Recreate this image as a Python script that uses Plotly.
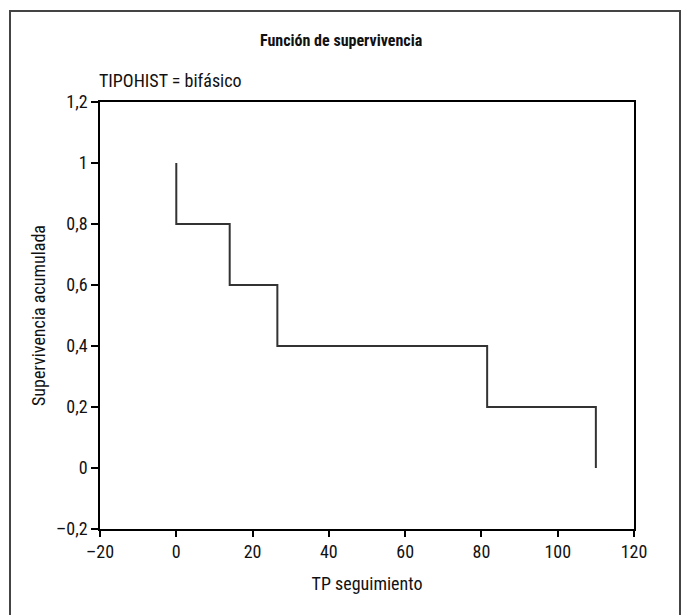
import plotly.graph_objects as go

# Step data (Kaplan-Meier style)
event_times = [0, 14, 26.5, 81.5, 110]
survival = [1.0, 0.8, 0.6, 0.4, 0.2, 0.0]

x_ticks = [-20, 0, 20, 40, 60, 80, 100, 120]
x_tick_labels = ["\u201320", "0", "20", "40", "60", "80", "100", "120"]
y_ticks = [-0.2, 0, 0.2, 0.4, 0.6, 0.8, 1.0, 1.2]
y_tick_labels = ["\u20130,2", "0", "0,2", "0,4", "0,6", "0,8", "1", "1,2"]

# build step path
xs, ys = [event_times[0]], [survival[0]]
for i, t in enumerate(event_times):
    xs.append(t); ys.append(survival[i + 1])
    if i + 1 < len(event_times):
        xs.append(event_times[i + 1]); ys.append(survival[i + 1])

FONT = "Liberation Sans Narrow, Arial Narrow, Roboto Condensed, Liberation Sans, sans-serif"

fig = go.Figure()
fig.add_trace(go.Scatter(x=xs, y=ys, mode="lines",
                         line=dict(color="#333333", width=2, shape="linear"),
                         showlegend=False, hoverinfo="skip"))

W, H = 683, 615
L, R, T, B = 100, 49, 102, 86
pw, ph = W - L - R, H - T - B

def px(xp):
    return (xp - L) / pw

def py(yp):
    return (H - B - yp) / ph

fig.update_layout(
    width=W, height=H,
    margin=dict(l=L, r=R, t=T, b=B),
    paper_bgcolor="white", plot_bgcolor="white",
    font=dict(family=FONT, size=18, color="#111111"),
    xaxis=dict(range=[-20, 120], tickvals=x_ticks, ticktext=x_tick_labels,
               showgrid=False, zeroline=False, showline=True, linecolor="black", linewidth=1.5,
               mirror=True, ticks="outside", ticklen=6, tickcolor="black", tickwidth=1.5,
               tickfont=dict(size=18),
               title=dict(text="TP seguimiento", standoff=16, font=dict(size=18))),
    yaxis=dict(range=[-0.2, 1.2], tickvals=y_ticks, ticktext=y_tick_labels,
               showgrid=False, zeroline=False, showline=True, linecolor="black", linewidth=1.5,
               mirror=True, ticks="outside", ticklen=7, tickcolor="black", tickwidth=1.5,
               tickfont=dict(size=18),
               title=dict(text="Supervivencia acumulada", standoff=6, font=dict(size=18))),
    shapes=[dict(type="rect", xref="paper", yref="paper",
                 x0=px(10), x1=px(680), y0=py(640), y1=py(11),
                 line=dict(color="#444444", width=2), fillcolor="rgba(0,0,0,0)", layer="below")],
    annotations=[
        dict(text="<b>Función de supervivencia</b>", xref="paper", yref="paper",
             x=px(341), y=py(40), showarrow=False, xanchor="center", yanchor="middle",
             font=dict(size=16, family=FONT)),
        dict(text="TIPOHIST = bifásico", xref="paper", yref="paper",
             x=px(97), y=py(81), showarrow=False, xanchor="left", yanchor="middle",
             font=dict(size=18, family=FONT)),
    ],
)

fig.write_html("out.html")
